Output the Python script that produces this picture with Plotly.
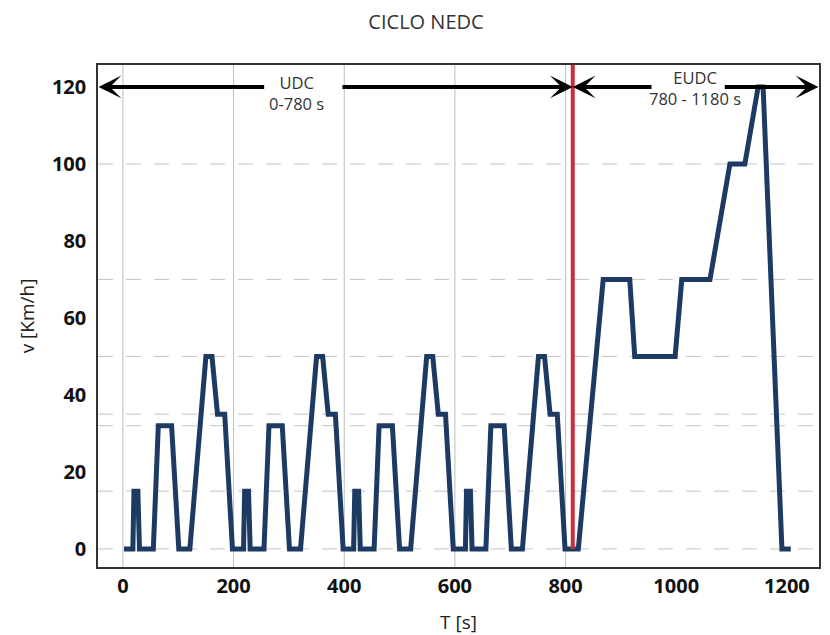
import plotly.graph_objects as go

# ---- data ----
time_s = [2, 18, 20, 27, 30, 55, 64, 88, 101, 121, 150, 161, 171, 184, 198,
          218, 220, 227, 230, 255, 264, 288, 301, 321, 350, 361, 371, 384, 398,
          417, 419, 426, 429, 454, 463, 487, 500, 520, 549, 560, 570, 583, 597,
          619, 621, 628, 631, 656, 665, 689, 702, 722, 751, 762, 772, 785, 799,
          823, 868, 916, 925, 998, 1010, 1061, 1097, 1124, 1148, 1157, 1191, 1207]
speed_kmh = [0, 0, 15, 15, 0, 0, 32, 32, 0, 0, 50, 50, 35, 35, 0,
             0, 15, 15, 0, 0, 32, 32, 0, 0, 50, 50, 35, 35, 0,
             0, 15, 15, 0, 0, 32, 32, 0, 0, 50, 50, 35, 35, 0,
             0, 15, 15, 0, 0, 32, 32, 0, 0, 50, 50, 35, 35, 0,
             0, 70, 70, 50, 50, 70, 70, 100, 100, 120, 120, 0, 0]

split_time = 813
hgrid_levels = [0, 15, 32, 35, 50, 70, 100]
vgrid_times = [0, 200, 400, 600, 800]
x_ticks = [0, 200, 400, 600, 800, 1000, 1200]
y_ticks = [0, 20, 40, 60, 80, 100, 120]
arrow_level = 120

X_RANGE = [-45, 1258]
Y_RANGE = [-4.7, 125.7]

# the page body has an 8px default margin, so the figure is drawn 8px smaller
OFF = 8
W, H = 830 - OFF, 635 - OFF

fig = go.Figure()

fig.add_trace(go.Scatter(x=time_s, y=speed_kmh, mode="lines",
                         line=dict(color="#1d3a62", width=5),
                         showlegend=False, hoverinfo="skip"))
fig.add_trace(go.Scatter(x=[split_time, split_time], y=[0, Y_RANGE[1]], mode="lines",
                         line=dict(color="#cc2f3b", width=4),
                         showlegend=False, hoverinfo="skip"))

shapes = []
for lv in hgrid_levels:
    shapes.append(dict(type="line", xref="paper", x0=0, x1=1, yref="y", y0=lv, y1=lv,
                       line=dict(color="#c4c4c4", width=1, dash="15px,13px"), layer="below"))
for t in vgrid_times:
    shapes.append(dict(type="line", xref="x", x0=t, x1=t, yref="paper", y0=0, y1=1,
                       line=dict(color="#bdbdbd", width=1), layer="below"))

anns = []
def arrow(tip, tail):
    anns.append(dict(x=tip, y=arrow_level, ax=tail, ay=arrow_level, xref="x", yref="y",
                     axref="x", ayref="y", text="", showarrow=True, arrowhead=3,
                     arrowsize=0.95, arrowwidth=4, arrowcolor="#000000"))

arrow(X_RANGE[0] + 1, 258)
arrow(split_time, 394)
arrow(split_time, 958)
arrow(X_RANGE[1] - 1, 1085)

txt_font = dict(family="Open Sans", size=16.5, color="#333333")
anns.append(dict(x=314, y=118.3, xref="x", yref="y", text="UDC<br>0-780 s", showarrow=False,
                 font=txt_font, align="center"))
anns.append(dict(x=1034, y=119.6, xref="x", yref="y", text="EUDC<br>780 - 1180 s", showarrow=False,
                 font=txt_font, align="center"))

fig.update_layout(
    width=W, height=H,
    paper_bgcolor="white", plot_bgcolor="white",
    margin=dict(l=98 - OFF, r=11, t=65 - OFF, b=68, autoexpand=False),
    title=dict(text="CICLO NEDC", x=(426 - OFF) / W, xanchor="center",
               y=1 - (22 - OFF) / H, yanchor="middle",
               font=dict(family="Open Sans", size=20, color="#333333")),
    shapes=shapes, annotations=anns,
    xaxis=dict(range=X_RANGE, tickvals=x_ticks, showgrid=False, zeroline=False,
               showline=True, linecolor="#333333", linewidth=1.5, mirror=True, ticks="",
               automargin=False,
               tickfont=dict(family="Open Sans", size=20, color="#111111", weight="bold"),
               title=dict(text="T [s]", font=dict(family="Open Sans", size=19, color="#222222"), standoff=18)),
    yaxis=dict(range=Y_RANGE, tickvals=y_ticks, showgrid=False, zeroline=False,
               showline=True, linecolor="#333333", linewidth=1.5, mirror=True, ticks="",
               ticklabelstandoff=6, automargin=False,
               tickfont=dict(family="Open Sans", size=20, color="#111111", weight="bold"),
               title=dict(text="v [Km/h]", font=dict(family="Open Sans", size=19, color="#222222"), standoff=12)),
)

fig.write_html("out.html")
